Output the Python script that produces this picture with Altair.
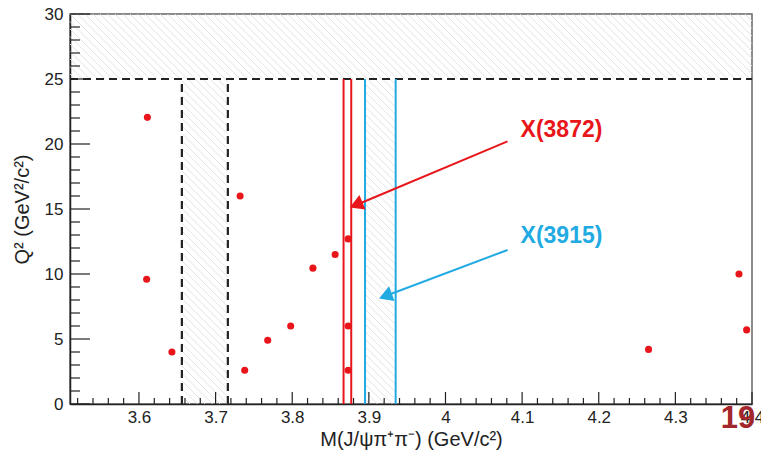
import math
import altair as alt
import numpy as np
import pandas as pd

# ---- candidate events: invariant mass (GeV/c^2) vs Q^2 (GeV^2/c^2)
mass = [3.611, 3.610, 3.643, 3.732, 3.738, 3.768, 3.798, 3.827, 3.856,
        3.873, 3.873, 3.873, 4.265, 4.383, 4.393]
q2 = [22.05, 9.6, 4.0, 16.0, 2.6, 4.9, 6.0, 10.45, 11.5,
      12.7, 6.0, 2.6, 4.2, 10.0, 5.7]

# ---- selection windows
q2_cut = 25.0
psi2s_window = [3.656, 3.716]
x3872_window = [3.867, 3.877]
x3915_window = [3.895, 3.935]

# ---- annotation arrows: (label, label x, label y, tail x, tail y, head x, head y)
labels = ["X(3872)", "X(3915)"]
label_x = [4.098, 4.098]
label_y = [21.1, 12.9]
tail_x = [4.081, 4.081]
tail_y = [20.2, 11.85]
head_x = [3.8834, 3.9216]
head_y = [15.31, 8.31]

# ---- axes
x_major = [3.6, 3.7, 3.8, 3.9, 4.0, 4.1, 4.2, 4.3, 4.4]
y_major = [0, 5, 10, 15, 20, 25, 30]
x_dom = [3.51, 4.4]
y_dom = [0, 30]

W, H = 682, 390
RED = "#e8161b"
BLUE = "#22aae2"
INK = "#222222"
FONT = "Liberation Sans"

x_scale = alt.Scale(domain=x_dom, nice=False, zero=False)
y_scale = alt.Scale(domain=y_dom, nice=False, zero=False)

x_axis = alt.Axis(values=x_major, format="~g", tickSize=0, labelPadding=5,
                  domainColor=INK, domainWidth=1.5, grid=False,
                  labelFont=FONT, labelFontSize=17, labelColor=INK,
                  title="M(J/ψπ⁺π⁻)  (GeV/c²)", titleFont=FONT,
                  titleFontSize=20, titleFontWeight="normal", titleColor=INK,
                  titlePadding=4, labelFlush=False, labelOverlap=False)
y_axis = alt.Axis(values=y_major, tickSize=0, labelPadding=7,
                  domainColor=INK, domainWidth=1.5, grid=False,
                  labelFont=FONT, labelFontSize=17, labelColor=INK,
                  title="Q² (GeV²/c²)", titleFont=FONT, titleFontSize=20,
                  titleFontWeight="normal", titleColor=INK, titlePadding=12,
                  labelFlush=False, labelOverlap=False)


def px(x):
    return (x - x_dom[0]) / (x_dom[1] - x_dom[0]) * W


def py(y):
    return H - (y - y_dom[0]) / (y_dom[1] - y_dom[0]) * H


def ix(p):
    return x_dom[0] + p / W * (x_dom[1] - x_dom[0])


def iy(p):
    return y_dom[0] + (H - p) / H * (y_dom[1] - y_dom[0])


def hatch(x0, x1, y0, y1, step=7.5):
    """Diagonal hatch segments filling a rectangle given in data units."""
    X0, X1 = px(x0), px(x1)
    T, B = py(y1), py(y0)
    segs = []
    c = math.floor((T - X1) / step) * step
    while c <= B - X0:
        lo = max(X0, T - c)
        hi = min(X1, B - c)
        if hi > lo:
            segs.append({"x": ix(lo), "y": iy(lo + c), "x2": ix(hi), "y2": iy(hi + c)})
        c += step
    return segs


hatch_rows = (hatch(x_dom[0], x_dom[1], q2_cut, y_dom[1])
              + hatch(psi2s_window[0], psi2s_window[1], 0, q2_cut)
              + hatch(x3915_window[0], x3915_window[1], 0, q2_cut))
hatch_df = pd.DataFrame(hatch_rows)

X = lambda f: alt.X(f, type="quantitative", scale=x_scale, axis=x_axis)
Y = lambda f: alt.Y(f, type="quantitative", scale=y_scale, axis=y_axis)

hatch_layer = alt.Chart(hatch_df).mark_rule(color="#e0e0e0", strokeWidth=0.9).encode(
    x=X("x"), y=Y("y"), x2="x2", y2="y2")

# inward tick marks
x_minor = [round(3.52 + 0.02 * i, 2) for i in range(45)]
x_minor = [v for v in x_minor if all(abs(v - m) > 1e-6 for m in x_major)]
y_minor = [v for v in range(0, 31) if v % 5 != 0]

xt_major = alt.Chart(pd.DataFrame({"v": x_major})).mark_rule(color=INK, strokeWidth=1.2).encode(
    x=X("v"), y=alt.value(H), y2=alt.value(H - 12))
xt_minor = alt.Chart(pd.DataFrame({"v": x_minor})).mark_rule(color=INK, strokeWidth=1.2).encode(
    x=X("v"), y=alt.value(H), y2=alt.value(H - 6))
yt_major = alt.Chart(pd.DataFrame({"v": y_major})).mark_rule(color=INK, strokeWidth=1.2).encode(
    y=Y("v"), x=alt.value(0), x2=alt.value(20))
yt_minor = alt.Chart(pd.DataFrame({"v": y_minor})).mark_rule(color=INK, strokeWidth=1.2).encode(
    y=Y("v"), x=alt.value(0), x2=alt.value(10))

# selection boundaries
cut_line = alt.Chart(pd.DataFrame({"x": [x_dom[0]], "x2": [x_dom[1]], "y": [q2_cut]})).mark_rule(
    color=INK, strokeWidth=2.2, strokeDash=[8, 5]).encode(x=X("x"), x2="x2", y=Y("y"))

psi_lines = alt.Chart(pd.DataFrame({"x": psi2s_window, "y": 0, "y2": q2_cut})).mark_rule(
    color=INK, strokeWidth=2.2, strokeDash=[8, 5]).encode(x=X("x"), y=Y("y"), y2="y2")

red_lines = alt.Chart(pd.DataFrame({"x": x3872_window, "y": 0, "y2": q2_cut})).mark_rule(
    color=RED, strokeWidth=2).encode(x=X("x"), y=Y("y"), y2="y2")

blue_lines = alt.Chart(pd.DataFrame({"x": x3915_window, "y": 0, "y2": q2_cut})).mark_rule(
    color=BLUE, strokeWidth=2).encode(x=X("x"), y=Y("y"), y2="y2")

events = alt.Chart(pd.DataFrame({"m": mass, "q": q2})).mark_circle(
    color=RED, size=50, opacity=1).encode(x=X("m"), y=Y("q"))

# arrows pointing from the labels to the windows
angles = []
for tx, ty, hx, hy in zip(tail_x, tail_y, head_x, head_y):
    dx = px(hx) - px(tx)
    dy = py(hy) - py(ty)
    angles.append((math.degrees(math.atan2(dx, -dy)) + 360) % 360)

arrow_df = pd.DataFrame({"label": labels, "lx": label_x, "ly": label_y,
                         "tx": tail_x, "ty": tail_y, "hx": head_x, "hy": head_y,
                         "ang": angles})
col = alt.Color("label:N", scale=alt.Scale(domain=labels, range=[RED, BLUE]), legend=None)

arrow_shaft = alt.Chart(arrow_df).mark_rule(strokeWidth=2).encode(
    x=X("tx"), y=Y("ty"), x2="hx", y2="hy", color=col)
arrow_head = alt.Chart(arrow_df).mark_point(shape="triangle-up", filled=True, size=250,
                                             opacity=1).encode(
    x=X("hx"), y=Y("hy"), angle=alt.Angle("ang:Q", scale=None), color=col)
arrow_text = alt.Chart(arrow_df).mark_text(align="left", baseline="middle", font=FONT,
                                           fontSize=23, fontWeight="bold").encode(
    x=X("lx"), y=Y("ly"), text="label:N", color=col)

# slide page number in the corner
page_no = alt.Chart(pd.DataFrame({"t": ["19"]})).mark_text(
    font=FONT, fontSize=31, fontWeight="bold", color="#a3262a",
    align="center", baseline="middle").encode(
    x=alt.value(668), y=alt.value(405), text="t:N")

chart = alt.layer(
    hatch_layer, xt_minor, xt_major, yt_minor, yt_major,
    cut_line, psi_lines, blue_lines, red_lines, events,
    arrow_shaft, arrow_head, arrow_text, page_no,
).properties(
    width=W, height=H,
    autosize=alt.AutoSizeParams(type="none"),
    padding={"left": 70, "top": 14, "right": 9, "bottom": 47},
    background="white",
).configure_view(stroke="#666666", strokeWidth=1.5)

chart.save("out.html", embed_options={"renderer": "svg", "actions": False})
